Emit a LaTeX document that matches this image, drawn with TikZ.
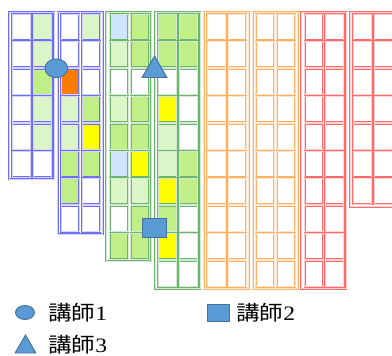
\documentclass[tikz,border=0pt]{standalone}
\usepackage{fontspec}
\setmainfont{Liberation Serif}
\newfontfamily\cjk[FakeStretch=1.15]{Noto Sans CJK JP}
\newfontfamily\digs[FakeStretch=1.15]{Liberation Serif}
\usetikzlibrary{shapes.geometric}
\definecolor{cw}{HTML}{FFFFFF}
\definecolor{cl}{HTML}{DCF5C6}
\definecolor{cm}{HTML}{C0EF88}
\definecolor{cb}{HTML}{CFE5FC}
\definecolor{co}{HTML}{FA7D00}
\definecolor{cy}{HTML}{FFFF00}
\definecolor{gblue}{HTML}{6E6EF8}
\definecolor{ggreen}{HTML}{6DB56D}
\definecolor{gorange}{HTML}{FFB060}
\definecolor{gred}{HTML}{FF6A6A}
\definecolor{mfill}{HTML}{5B9BD5}
\definecolor{mline}{HTML}{41719C}
\tikzset{
  dline/.style={draw=#1, double=#1!30, double distance=0.7pt, line width=0.65pt},
  marker/.style={fill=mfill, draw=mline, line width=0.9pt, inner sep=0pt, outer sep=0pt},
  legtext/.style={anchor=west, inner sep=0pt, font=\fontsize{20.5}{22}\selectfont},
}
\newcommand\seatgroup[4]{%
  \draw[dline=#3] (#1,12) rectangle ({#1+45},{14+(#2-1)*27.4+26+2.2});
  \foreach \a/\b [count=\r from 0] in {#4} {
    \draw[dline=#3, fill=c\a] ({#1+3.3},{14+\r*27.4}) rectangle ++(18.4,26);
    \draw[dline=#3, fill=c\b] ({#1+24.2},{14+\r*27.4}) rectangle ++(18.4,26);
  }%
}
\begin{document}
\begin{tikzpicture}[x=1pt, y=-1pt]
\useasboundingbox (0,0) rectangle (392,356);
\seatgroup{9}{6}{gblue}{w/l, w/l, w/m, w/l, w/l, w/w}
\seatgroup{57.7}{8}{gblue}{w/l, w/w, o/w, l/m, l/y, m/m, m/w, w/w}
\seatgroup{106.4}{9}{ggreen}{b/m, l/m, w/w, l/m, m/m, b/y, l/l, w/m, m/m}
\seatgroup{155.1}{10}{ggreen}{m/m, m/m, w/w, y/w, l/w, l/m, y/m, m/w, y/w, w/w}
\seatgroup{203.8}{10}{gorange}{w/w, w/w, w/w, w/w, w/w, w/w, w/w, w/w, w/w, w/w}
\seatgroup{252.5}{10}{gorange}{w/w, w/w, w/w, w/w, w/w, w/w, w/w, w/w, w/w, w/w}
\seatgroup{301.2}{10}{gred}{w/w, w/w, w/w, w/w, w/w, w/w, w/w, w/w, w/w, w/w}
\seatgroup{349.9}{7}{gred}{w/w, w/w, w/w, w/w, w/w, w/w, w/w}
% teacher markers
\node[marker, ellipse, minimum width=22.7pt, minimum height=18.7pt] (m1) at (56.3,68.3) {};
\node[marker, regular polygon, regular polygon sides=3, minimum size=28.6pt] (m3) at (154.5,70.3) {};
\node[marker, rectangle, minimum width=24pt, minimum height=19pt] (m2) at (154.7,228.3) {};
% legend
\node[marker, ellipse, minimum width=19pt, minimum height=14pt] (l1) at (25,312.5) {};
\node[legtext] (t1) at (48,313) {{\cjk 講師}{\digs 1}};
\node[marker, rectangle, minimum width=22pt, minimum height=17pt] (l2) at (218.5,312.5) {};
\node[legtext] (t2) at (236,313) {{\cjk 講師}{\digs 2}};
\node[marker, regular polygon, regular polygon sides=3, minimum size=24pt] (l3) at (25.5,347) {};
\node[legtext] (t3) at (48,345) {{\cjk 講師}{\digs 3}};
\end{tikzpicture}
\end{document}
